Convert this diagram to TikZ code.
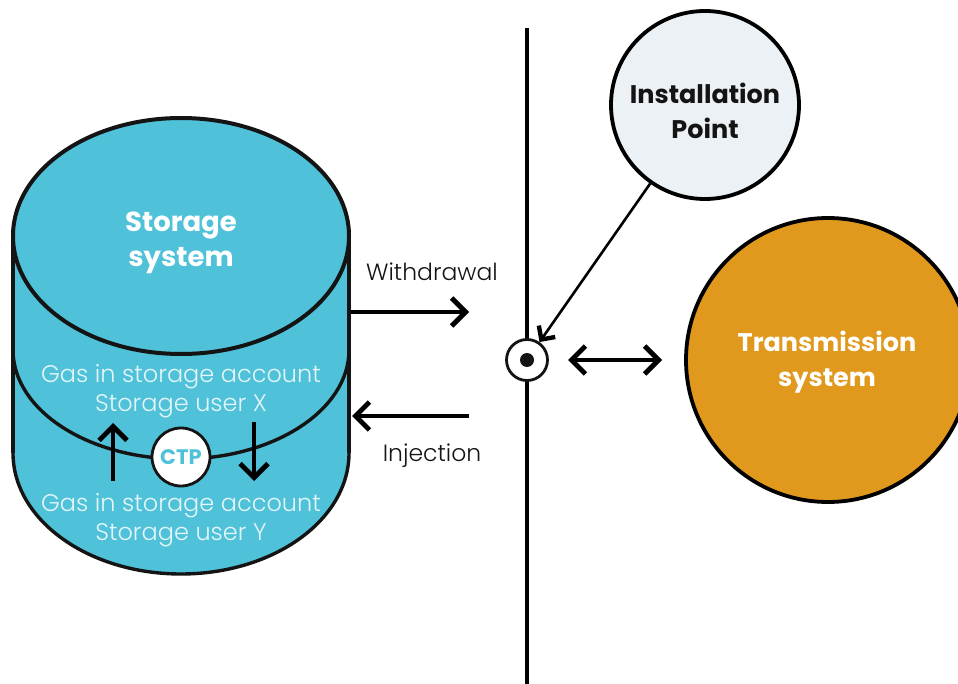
\documentclass[tikz,border=0pt]{standalone}
\usepackage{fontspec}
\setmainfont{Poppins}
\newfontfamily\lightf{Poppins Light}
\usetikzlibrary{arrows.meta}
\definecolor{cyl}{HTML}{4FC1D9}
\definecolor{gold}{HTML}{E0991C}
\definecolor{pale}{HTML}{EBF1F4}
\definecolor{ink}{HTML}{141414}
\tikzset{
  x=1pt,y=-1pt,
  edge/.style={draw=ink,line width=4pt},
  thinedge/.style={draw=ink,line width=3.4pt},
  bigarrow/.style={draw=black,line width=4.8pt,-{Straight Barb[length=14pt,width=28pt,line width=4.8pt]}},
  dblarrow/.style={draw=black,line width=4.4pt,{Straight Barb[length=14pt,width=28pt,line width=4.8pt]}-{Straight Barb[length=14pt,width=28pt,line width=4.8pt]}},
  pointer/.style={draw=black,line width=2.6pt,-{Straight Barb[length=10pt,width=20pt,line width=4.4pt]}},
  bold/.style={font=\fontsize{25.5}{35}\selectfont\bfseries,align=center,text=ink},
  boldw/.style={font=\fontsize{25.5}{35}\selectfont\bfseries,align=center,text=white},
  gas/.style={font=\fontsize{24}{29}\selectfont\lightf,align=center,text=white!85!cyl},
  lab/.style={font=\fontsize{23.5}{26}\selectfont\lightf,text=ink},
}
\begin{document}
\begin{tikzpicture}
\useasboundingbox (0,0) rectangle (958,684);
\clip (0,0) rectangle (958,684);
% cylinder
\path[fill=cyl] (13,236) -- (13,453) arc[start angle=180,end angle=0,x radius=168,y radius=121] -- (349,236) arc[start angle=0,end angle=-180,x radius=168,y radius=118] -- cycle;
\draw[thinedge] (13,453) arc[start angle=180,end angle=0,x radius=168,y radius=121];
\draw[thinedge] (13,350) arc[start angle=180,end angle=0,x radius=168,y radius=109];
\draw[edge] (13,453) -- (13,236);
\draw[edge] (349,453) -- (349,236);
\draw[edge] (181,236) ellipse[x radius=168,y radius=118];
\node[boldw,font=\fontsize{27.5}{35}\selectfont\bfseries] (storage) at (181,243) {Storage\\system};
\node[gas] (gasx) at (181,391) {Gas in storage account\\Storage user X};
\node[gas] (gasy) at (181,520) {Gas in storage account\\Storage user Y};
\node[circle,draw=ink,line width=2.8pt,fill=white,minimum size=58pt,inner sep=0pt,text=cyl,font=\fontsize{21}{22}\selectfont\bfseries] (ctp) at (181,457) {CTP};
\coordinate (ua) at (113,481); \coordinate (ub) at (113,423);
\coordinate (da) at (254,422); \coordinate (db) at (254,481);
\draw[bigarrow] (ua) -- (ub);
\draw[bigarrow] (da) -- (db);
% withdrawal/injection
\coordinate (wa) at (351,312); \coordinate (wb) at (469,312);
\coordinate (ia) at (469,416); \coordinate (ib) at (352,416);
\draw[bigarrow] (wa) -- (wb);
\draw[bigarrow] (ia) -- (ib);
\node[lab] (withdrawal) at (432,272) {Withdrawal};
\node[lab] (injection) at (432,456) {Injection};
% line
\coordinate (ltop) at (527,28); \coordinate (lbot) at (527,684);
\draw[draw=black,line width=4.4pt] (ltop) -- (lbot);
\node[circle,draw=ink,line width=2.8pt,fill=white,minimum size=41pt,inner sep=0pt] (pt) at (527,360) {};
\node[circle,fill=ink,minimum size=14pt,inner sep=0pt] (dot) at (527,360) {};
% circles
\node[circle,draw=black,line width=3.8pt,fill=pale,minimum size=188pt,inner sep=0pt] (inst) at (705,105) {};
\node[bold] (insttext) at (705,111) {Installation\\Point};
\node[circle,draw=black,line width=3.8pt,fill=gold,minimum size=284pt,inner sep=0pt] (trans) at (828,360) {};
\node[boldw] (transtext) at (827,362) {Transmission\\system};
\coordinate (da1) at (568,360); \coordinate (da2) at (662,360);
\draw[dblarrow] (da1) -- (da2);
\draw[pointer] (inst) -- (pt);
\end{tikzpicture}
\end{document}
